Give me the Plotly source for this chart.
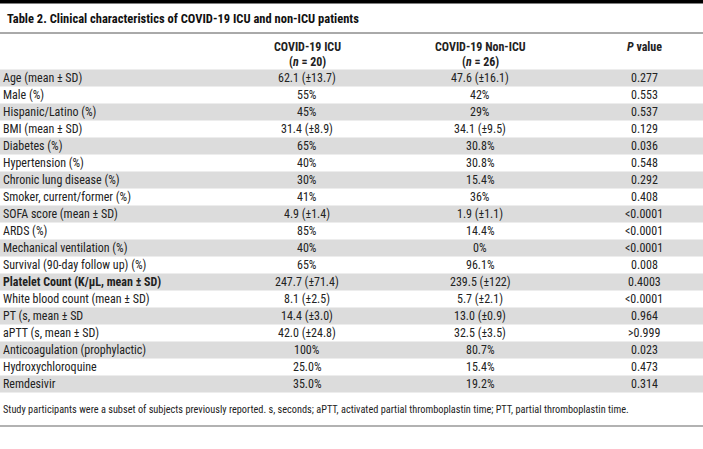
import plotly.graph_objects as go

W, H = 703, 449

title_text = "Table 2. Clinical characteristics of COVID-19 ICU and non-ICU patients"
footnote_text = ("Study participants were a subset of subjects previously reported. s, seconds; "
                 "aPTT, activated partial thromboplastin time; PTT, partial thromboplastin time.")

header_line1 = ["COVID-19 ICU", "COVID-19 Non-ICU", "<i>P</i> value"]
header_line2 = ["(<i>n</i> = 20)", "(<i>n</i> = 26)", ""]

characteristics = [
    "Age (mean ± SD)", "Male (%)", "Hispanic/Latino (%)", "BMI (mean ± SD)",
    "Diabetes (%)", "Hypertension (%)", "Chronic lung disease (%)",
    "Smoker, current/former (%)", "SOFA score (mean ± SD)", "ARDS (%)",
    "Mechanical ventilation (%)", "Survival (90-day follow up) (%)",
    "<b>Platelet Count (K/μL, mean ± SD)</b>", "White blood count (mean ± SD)",
    "PT (s, mean ± SD", "aPTT (s, mean ± SD)", "Anticoagulation (prophylactic)",
    "Hydroxychloroquine", "Remdesivir",
]
icu = [
    "62.1 (±13.7)", "55%", "45%", "31.4 (±8.9)", "65%", "40%", "30%", "41%",
    "4.9 (±1.4)", "85%", "40%", "65%", "247.7 (±71.4)", "8.1 (±2.5)",
    "14.4 (±3.0)", "42.0 (±24.8)", "100%", "25.0%", "35.0%",
]
non_icu = [
    "47.6 (±16.1)", "42%", "29%", "34.1 (±9.5)", "30.8%", "30.8%", "15.4%", "36%",
    "1.9 (±1.1)", "14.4%", "0%", "96.1%", "239.5 (±122)", "5.7 (±2.1)",
    "13.0 (±0.9)", "32.5 (±3.5)", "80.7%", "15.4%", "19.2%",
]
p_values = [
    "0.277", "0.553", "0.537", "0.129", "0.036", "0.548", "0.292", "0.408",
    "<0.0001", "<0.0001", "<0.0001", "0.008", "0.4003", "<0.0001",
    "0.964", ">0.999", "0.023", "0.473", "0.314",
]

GRAY = "#dcdcdc"
TEXT = "#222"
FONT = "Roboto Condensed, Liberation Sans Narrow, Roboto, sans-serif"
BODY = 12

# layout geometry (pixels)
col_centers = [307, 480, 644]
row_top0 = 69.5
row_h = 17.0

fig = go.Figure()
fig.update_xaxes(range=[0, W], visible=False, fixedrange=True)
fig.update_yaxes(range=[H, 0], visible=False, fixedrange=True)

shapes = [
    dict(type="rect", xref="x", yref="y", x0=0, x1=W, y0=0, y1=3.5,
         fillcolor="black", line=dict(width=0), layer="above"),
    dict(type="line", xref="x", yref="y", x0=0, x1=W, y0=33, y1=33,
         line=dict(color="#555", width=1)),
    dict(type="line", xref="x", yref="y", x0=0, x1=W, y0=426, y1=426,
         line=dict(color="#999", width=1.5)),
]
annotations = [
    dict(text="<b>" + title_text + "</b>", x=5, y=18, xref="x", yref="y",
         xanchor="left", yanchor="middle", showarrow=False,
         font=dict(family=FONT, size=12.5, color="#111")),
    dict(text=footnote_text, x=1, y=409, xref="x", yref="y",
         xanchor="left", yanchor="middle", showarrow=False,
         font=dict(family=FONT, size=10.3, color=TEXT)),
]

for j, (l1, l2) in enumerate(zip(header_line1, header_line2)):
    annotations.append(dict(text="<b>" + l1 + "</b>", x=col_centers[j], y=47,
                            xref="x", yref="y", xanchor="center", yanchor="middle",
                            showarrow=False, font=dict(family=FONT, size=BODY, color=TEXT)))
    if l2:
        annotations.append(dict(text="<b>" + l2 + "</b>", x=col_centers[j], y=62,
                                xref="x", yref="y", xanchor="center", yanchor="middle",
                                showarrow=False, font=dict(family=FONT, size=BODY, color=TEXT)))

for i, label in enumerate(characteristics):
    top = row_top0 + i * row_h
    mid = top + row_h / 2
    if i % 2 == 0:
        shapes.append(dict(type="rect", xref="x", yref="y", x0=0, x1=W, y0=top,
                           y1=top + row_h, fillcolor=GRAY, line=dict(width=0), layer="below"))
    annotations.append(dict(text=label, x=1, y=mid, xref="x", yref="y",
                            xanchor="left", yanchor="middle", showarrow=False,
                            font=dict(family=FONT, size=BODY, color=TEXT)))
    for j, col in enumerate([icu, non_icu, p_values]):
        annotations.append(dict(text=col[i], x=col_centers[j], y=mid, xref="x", yref="y",
                                xanchor="center", yanchor="middle", showarrow=False,
                                font=dict(family=FONT, size=BODY, color=TEXT)))

fig.update_layout(width=W, height=H, margin=dict(l=0, r=0, t=0, b=0),
                  paper_bgcolor="white", plot_bgcolor="white",
                  shapes=shapes, annotations=annotations, showlegend=False)
fig.write_html("out.html", config={"staticPlot": True},
               post_script="document.body.style.margin='0';")
